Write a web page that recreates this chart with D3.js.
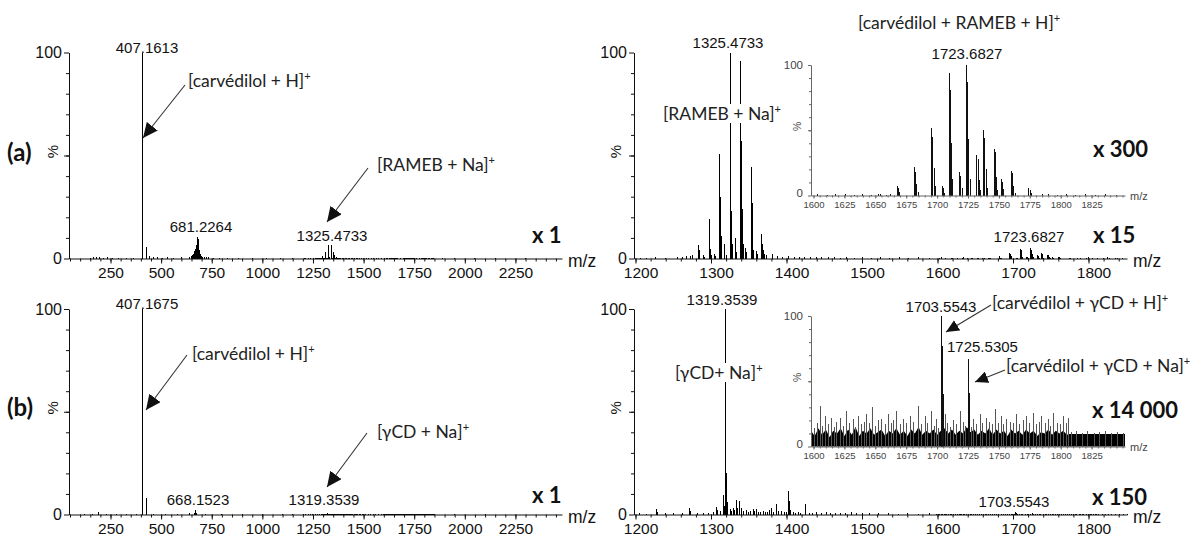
<!DOCTYPE html>
<html><head><meta charset="utf-8">
<script src="https://cdn.jsdelivr.net/npm/d3@7"></script>
<style>body{margin:0;background:#fff}svg{display:block}</style>
</head><body>
<svg id="c" width="1194" height="538"></svg>
<script>
// ---------------- DATA (m/z, relative intensity %) ----------------
// (a) full scan, own peaks outside the 1198–1851 zoom window
const specA_low = [[150,0.4],[168,0.6],[182,0.5],[197,0.7],[213,0.4],[236,0.5],[262,0.3],[290,0.3],[330,0.3],[365,0.4],
 [407.1613,100],[429.15,5.7],[445,1.2],[460,0.8],[480,0.5],[505,0.4],[530,0.6],[560,0.4],[600,0.5],[640,0.7],
 [652,1.0],[657,1.5],[661,2.2],[664,3],[667,3.8],[670,4.5],[673,5.2],[676,6.5],[678,8],[680,9.5],[681.2264,10.5],
 [682.5,9.6],[684,8],[686,6],[688,4],[690,3],[693,2],[696,1.3],[700,1],[705,0.8],[712,0.6],[722,0.5],[735,0.5],
 [760,0.4],[790,0.3],[830,0.3],[880,0.3],[950,0.3],[1020,0.3],[1090,0.3],[1150,0.3],[1890,0.3],[1950,0.2],[2050,0.2],[2150,0.2],[2300,0.2]];
// (a) zoom window 1198–1851, scale x15
const specA_zoom = [[1206,0.4],[1215,0.3],[1227,0.6],[1240,0.4],[1255,0.7],[1262,0.5],[1268,1.4],[1273,1.0],[1276,1.6],
 [1283.4,6.5],[1284.4,4],[1285.4,1.6],[1290.4,1.5],[1292,0.8],[1297.4,19],[1298.4,11],[1299.4,4.5],[1300.4,1.5],
 [1304.4,2.4],[1306,1.2],[1311.4,50.6],[1312.4,30],[1313.4,11],[1314.4,3.5],[1317.4,7],[1318.4,4],[1320,1.5],
 [1325.4733,100],[1326.47,63],[1327.47,23],[1328.47,7],[1331.8,10],[1332.8,6],[1334,3],
 [1339.49,96],[1340.49,57],[1341.49,24],[1342.49,7],[1346,5],[1347,3],
 [1353.5,44.5],[1354.5,27],[1355.5,14.5],[1356.5,4],[1360.5,3.5],[1361.5,2],
 [1367.5,11.8],[1368.5,7],[1369.5,4],[1370.5,2],[1374,1.5],[1381,2.4],[1382,1.5],[1388,1.2],[1395,0.8],
 [1403,1.3],[1410,0.7],[1417,0.9],[1424,0.6],[1432,0.8],[1440,0.5],[1447,0.7],[1455,0.5],[1463,0.6],[1472,0.4],
 [1480,0.5],[1490,0.4],[1500,0.5],[1512,0.4],[1525,0.5],[1537,0.4],[1550,0.5],[1562,0.4],[1575,0.5],[1590,0.4],
 [1605,0.5],[1620,0.4],[1635,0.5],[1645,0.4],[1800,0.5],[1812,0.4],[1825,0.5],[1838,0.4]];
// (a) inset 1598–1852, scale x300
const insetA = [[1603,0.8],[1611,0.6],[1618,0.8],[1626,1.2],[1633,0.6],[1640,0.8],[1647,0.6],[1652.6,1.5],[1654,0.8],[1659,0.6],[1662,0.8],
 [1667.6,7.5],[1668.6,5.5],[1669.6,2.5],[1681.6,21.7],[1682.6,18],[1683.6,8.5],[1684.6,2.5],
 [1695.6,51.5],[1696.6,45],[1697.6,21],[1698.6,7.5],[1704.2,7],[1705.2,5.5],[1706.2,2],
 [1709.7,93.6],[1710.7,81],[1711.7,40],[1712.7,13],[1718.2,18],[1719.2,15],[1720.2,6],
 [1723.6827,100],[1724.68,87],[1725.68,43],[1726.68,13],[1732.2,31],[1733.2,28],[1734.2,12],[1735.2,4],
 [1737.7,50],[1738.7,44],[1739.7,20],[1740.7,6],[1746.2,36],[1747.2,33],[1748.2,14],[1749.2,4],
 [1751.7,12.5],[1752.7,10],[1753.7,5],[1760.2,19],[1761.2,17],[1762.2,7],[1763.2,2],
 [1774.2,5.6],[1775.2,4.5],[1776.2,2],[1785,1],[1790,0.8],[1797,0.6],[1805,0.8],[1812,0.6],[1820,0.8],[1828,0.6],[1836,0.8],[1845,0.6]];
// (b) full scan, own peaks
const specB_low = [[120,0.3],[160,0.4],[193,1.0],[230,0.4],[280,0.3],[330,0.3],[380,0.3],[407.1675,100],[429.15,7.8],
 [460,0.4],[520,0.3],[580,0.3],[640,0.5],[663,0.8],[668.1523,2.4],[675,0.6],[720,0.3],[800,0.3],[900,0.3],[1000,0.3],[1100,0.3],[1150,0.3],[1950,0.2],[2100,0.2]];
// (b) zoom window 1198–1851, scale x150
const specB_zoom = [[1205,0.5],[1214,0.4],[1228,2.6],[1229,1],[1240,0.5],[1250,0.6],[1262,0.5],[1272,3.2],[1273,1.5],[1282,0.6],
 [1290,0.7],[1297,0.8],[1303,1.2],[1307.5,3.7],[1308.5,2],[1312,1.5],[1316.3,9.4],[1317.3,4],[1319.3539,100],[1320.35,20],
 [1321.35,6],[1322.5,2],[1325.2,2.6],[1327,1.8],[1329.5,3.4],[1331,2],[1334,7],[1335,3],[1338.4,6.5],[1340.6,3],[1343,1.5],
 [1347.3,2.4],[1350,1.2],[1352.5,1.8],[1356,2.6],[1358,1.5],[1360.5,2.9],[1363,1.2],[1366,1],[1369.3,1.8],[1372,1.2],
 [1375,1],[1378,2.4],[1380.4,3],[1383,1],[1387,5],[1389,1.5],[1393.6,1.8],[1397,1],[1400,1.2],[1402.4,11.4],[1403.5,6.5],
 [1405,2],[1409,1],[1412,0.8],[1415.6,1],[1419,0.7],[1424.5,4.9],[1425.5,2],[1430,0.8],[1435,0.6],[1440,1.3],[1446,0.6],
 [1453,1.3],[1458,0.6],[1465,0.8],[1472,0.6],[1478,0.6],[1486.3,1.3],[1493,0.5],[1500,0.6],[1510,0.5],[1522,0.5],[1535,0.5],
 [1548,0.4],[1560,0.5],[1575,0.4],[1590,0.5],[1610,0.4],[1630,0.4],[1650,0.4],[1670,0.4],[1690,0.4],[1720,0.4],[1745,0.4],
 [1770,0.4],[1790,0.4],[1810,0.4],[1830,0.4]];
// (b) inset 1598–1852, scale x14000: spikes and dense noise floor
const insetB = [[1598.8,25],[1601,14],[1603,18],[1605.4,31],[1607,16],[1609.5,23],[1612,17],[1614.8,22],[1617,15],[1619,19],
 [1621.6,22],[1624,16],[1627,27],[1629,18],[1632.3,21],[1634,15],[1636.4,23],[1639,17],[1641,19],[1643.2,25],[1645.5,18],
 [1648,30],[1650,16],[1652.5,20],[1655.3,21],[1658,17],[1660.6,25],[1663,18],[1665,20],[1667.4,27],[1670,17],[1672.8,21],
 [1675,18],[1678.2,23],[1681,19],[1684.9,31],[1687,17],[1690.3,23],[1692.5,18],[1695.7,27],[1698,16],[1699.7,21],[1701.5,14],
 [1703.5543,100],[1704.55,77],[1705.55,40],[1706.5,25],[1708.5,18],[1711,15],[1713.2,20],[1716,17],[1718.6,27],[1721,19],
 [1723,16],[1725.5305,67],[1726.53,41],[1727.5,15],[1729.4,21],[1732,17],[1734.8,25],[1737,18],[1740.2,22],[1742.5,19],
 [1744.5,17],[1746.9,29],[1749.5,18],[1752.3,23],[1754,17],[1756.3,21],[1759,19],[1761.5,18],[1764.4,25],[1767,17],
 [1769.5,20],[1772.5,23],[1775,18],[1777.9,26],[1780.5,17],[1782.5,19],[1784.6,23],[1787.5,18],[1790,21],[1792,16],
 [1794,26],[1797,18],[1799.5,17],[1802.1,23],[1804.5,18],[1806.5,22],[1809,11],[1813,11.5],[1818,10.5],[1822,11.5],
 [1827,10.5],[1831,11],[1836,11.5],[1841,10.5],[1846,11],[1851,10]];
const insetB_floor = [[1598,12],[1601,8],[1604,14],[1607,9],[1610,13],[1613,7],[1616,12],[1619,10],[1622,14],[1625,8],
 [1628,13],[1631,9],[1634,15],[1637,8],[1640,12],[1643,10],[1646,14],[1649,9],[1652,11],[1655,13],[1658,8],[1661,12],
 [1664,10],[1667,14],[1670,9],[1673,12],[1676,8],[1679,13],[1682,10],[1685,15],[1688,9],[1691,12],[1694,10],[1697,13],
 [1700,9],[1703,12],[1706,14],[1709,10],[1712,13],[1715,9],[1718,12],[1721,10],[1724,15],[1727,11],[1730,13],[1733,9],
 [1736,12],[1739,10],[1742,14],[1745,9],[1748,13],[1751,10],[1754,12],[1757,8],[1760,13],[1763,10],[1766,12],[1769,9],
 [1772,13],[1775,10],[1778,12],[1781,8],[1784,11],[1787,10],[1790,13],[1793,9],[1796,12],[1799,10],[1802,12],[1805,9],
 [1807,9.5],[1852,9.5]];
// magnification factors shown on the chart
const magA = {low:1, zoom:15, inset:300};
const magB = {low:1, zoom:150, inset:14000};
// axis ticks
const ticksLeftMajor = [250,500,750,1000,1250,1500,1750,2000,2250];
const ticksRightMajor = [1200,1300,1400,1500,1600,1700,1800];
const ticksInsetMajor = [1600,1625,1650,1675,1700,1725,1750,1775,1800,1825];

// ---------------- DRAWING ----------------
const svg = d3.select("#c");
const NUM = "'Liberation Sans', Arial, sans-serif";
const TXT = "Lato, 'Open Sans', sans-serif";

const xL = d3.scaleLinear().domain([45,2480]).range([69,562]);
const xR = d3.scaleLinear().domain([1198,1851]).range([634,1127]);
const xI = d3.scaleLinear().domain([1598,1852]).range([811,1125]);
const yTop = d3.scaleLinear().domain([0,100]).range([258.5,52.5]);
const yBot = d3.scaleLinear().domain([0,100]).range([514.5,309]);
const yIA = d3.scaleLinear().domain([0,100]).range([195.5,65]);
const yIB = d3.scaleLinear().domain([0,100]).range([446.5,316]);

function scaleData(arr,f){return arr.map(d=>[d[0],d[1]*f]);}
// combined spectra at each magnification
const A_zoomFull = specA_zoom.concat(scaleData(insetA, magA.zoom/magA.inset));
const A_lowFull = specA_low.concat(scaleData(A_zoomFull, magA.low/magA.zoom));
const B_zoomFull = specB_zoom.concat(scaleData(insetB, magB.zoom/magB.inset));
const B_lowFull = specB_low.concat(scaleData(B_zoomFull, magB.low/magB.zoom));

function lines(data,x,y,color){
  const [d0,d1]=x.domain();
  svg.append("g").selectAll("line").data(data.filter(d=>d[0]>=d0&&d[0]<=d1)).join("line")
    .attr("x1",d=>x(d[0])).attr("x2",d=>x(d[0]))
    .attr("y1",y(0)).attr("y2",d=>y(Math.min(d[1],100)))
    .attr("stroke",color).attr("stroke-width",1).attr("shape-rendering","crispEdges");
}

function axes(x,y,o){
  const y0=y(0), x0=x.range()[0];
  const gm=svg.append("g").attr("transform",`translate(0,${y0})`)
    .call(d3.axisBottom(x).tickValues(o.xMinor).tickSize(o.minor).tickFormat(""));
  gm.select(".domain").remove();
  const gM=svg.append("g").attr("transform",`translate(0,${y0})`)
    .call(d3.axisBottom(x).tickValues(o.xMajor).tickSize(o.major).tickSizeOuter(0).tickPadding(o.pad).tickFormat(d3.format("d")));
  gM.selectAll("text").attr("font-size",o.fs).attr("font-family",NUM).attr("fill",o.tc).attr("dx",o.dx||0);
  const ym=svg.append("g").attr("transform",`translate(${x0},0)`)
    .call(d3.axisLeft(y).tickValues(d3.range(10,100,10)).tickSize(o.minor).tickFormat(""));
  ym.select(".domain").remove();
  const yM=svg.append("g").attr("transform",`translate(${x0},0)`)
    .call(d3.axisLeft(y).tickValues([0,50,100]).tickSize(o.major).tickSizeOuter(0).tickPadding(o.ypad).tickFormat(d=>d===50?"":d));
  yM.selectAll("text").attr("font-size",o.yfs).attr("font-family",NUM).attr("fill",o.tc);
  yM.selectAll(".tick").filter(d=>d===0).select("text").attr("dy",o.zeroDy);
  [gm,gM,ym,yM].forEach(s=>s.selectAll("line,path").attr("stroke",o.lc));
  // % label
  svg.append("text").attr("transform",`translate(${o.pctX},${(y(0)+y(100))/2-4}) rotate(-90)`)
    .attr("text-anchor","middle").attr("dominant-baseline","central")
    .attr("font-family",NUM).attr("font-size",o.pfs).attr("fill",o.tc).text("%");
  // m/z
  svg.append("text").attr("x",x.range()[1]+o.mzGap).attr("y",y0+o.mzDy)
    .attr("font-family",NUM).attr("font-size",o.mzfs).attr("fill",o.tc).text("m/z");
}

const mainOpt = (xMajor,xMinor,dx,pctX)=>({xMajor,xMinor,minor:3,major:5,pad:3.5,fs:15.5,yfs:16,pfs:15,ypad:2,tc:"#111",lc:"#111",dx,pctX,mzGap:6,mzDy:8,mzfs:17.5,zeroDy:"0.32em"});
const insetOpt = {xMajor:ticksInsetMajor,xMinor:d3.range(1600,1851,5),minor:2,major:3,pad:2.5,fs:9.5,yfs:11.5,pfs:10.5,ypad:5,tc:"#444",lc:"#666",dx:0,pctX:797,mzGap:5,mzDy:4,mzfs:11,zeroDy:"0.1em"};

// text helpers
function num(t,x,y,anchor){svg.append("text").attr("x",x).attr("y",y).attr("text-anchor",anchor||"middle")
  .attr("font-family",NUM).attr("font-size",15).attr("fill","#111").text(t);}
function ion(t,x,y,bg){
  const tx=svg.append("text").attr("x",x).attr("y",y).attr("font-family",TXT).attr("font-size",17.5).attr("fill","#222");
  tx.append("tspan").text(t);
  tx.append("tspan").attr("dy",-7).attr("font-size",11).text("+");
  if(bg){const b=tx.node().getBBox();
    svg.insert("rect",()=>tx.node()).attr("x",b.x-1).attr("y",b.y+2).attr("width",b.width+2).attr("height",b.height-3).attr("fill","#fff");}
}
function bold(t,x,y,fs){svg.append("text").attr("x",x).attr("y",y).attr("font-family",TXT).attr("font-weight","bold")
  .attr("font-size",fs||22).attr("fill","#111").text(t);}
const defs=svg.append("defs");
defs.append("marker").attr("id","ah").attr("markerUnits","userSpaceOnUse").attr("markerWidth",16).attr("markerHeight",14)
  .attr("refX",15).attr("refY",7).attr("orient","auto").append("path").attr("d","M0,0L15,7L0,14Z").attr("fill","#111");
defs.append("marker").attr("id","ah2").attr("markerUnits","userSpaceOnUse").attr("markerWidth",14).attr("markerHeight",12)
  .attr("refX",13).attr("refY",6).attr("orient","auto").append("path").attr("d","M0,0L13,6L0,12Z").attr("fill","#111");
function arrow(x1,y1,x2,y2,m){svg.append("line").attr("x1",x1).attr("y1",y1).attr("x2",x2).attr("y2",y2)
  .attr("stroke","#333").attr("stroke-width",1.1).attr("marker-end",`url(#${m||"ah"})`);}

// ---- spectra ----
lines(A_lowFull,xL,yTop,"#000");
lines(A_zoomFull,xR,yTop,"#000");
lines(B_lowFull,xL,yBot,"#000");
lines(B_zoomFull,xR,yBot,"#000");
// inset areas/lines
svg.append("path").datum(insetB_floor).attr("fill","#000")
  .attr("d",d3.area().x(d=>xI(d[0])).y0(yIB(0)).y1(d=>yIB(d[1])));
lines(insetA,xI,yIA,"#111");
lines(insetB,xI,yIB,"#555");
lines(insetB.filter(d=>d[1]>35),xI,yIB,"#111");

// ---- axes ----
axes(xL,yTop,mainOpt(ticksLeftMajor,d3.range(50,2451,50),0,52.5));
axes(xR,yTop,mainOpt(ticksRightMajor,d3.range(1200,1851,20),5,615));
axes(xL,yBot,mainOpt(ticksLeftMajor,d3.range(50,2451,50),0,52.5));
axes(xR,yBot,mainOpt(ticksRightMajor,d3.range(1200,1851,20),5,615));
axes(xI,yIA,insetOpt);
axes(xI,yIB,insetOpt);

// ---- annotations (a) ----
bold("(a)",7,161,24);
num("407.1613",147,53);
ion("[carvédilol + H]",188,87);
arrow(185,85,143,138);
num("681.2264",201,232);
ion("[RAMEB + Na]",377,171);
arrow(368,168,327,222);
num("1325.4733",332,241);
bold("x 1",532,243);
num("1325.4733",728,48);
ion("[RAMEB + Na]",663,120,true);
ion("[carvédilol + RAMEB + H]",858,29);
num("1723.6827",967,59);
bold("x 300",1093,157);
num("1723.6827",1029,242);
bold("x 15",1093,243);

// ---- annotations (b) ----
bold("(b)",7,416,24);
num("407.1675",147,309);
ion("[carvédilol + H]",192,360);
arrow(187,355,146,410);
num("668.1523",198,505);
num("1319.3539",324,505);
ion("[γCD + Na]",377,438);
arrow(367,433,327,487);
bold("x 1",532,503);
num("1319.3539",722,305);
ion("[γCD+ Na]",675,379,true);
num("1703.5543",941,312);
ion("[carvédilol + γCD + H]",992,309);
arrow(991,305,946,332,"ah2");
num("1725.5305",947,352,"start");
ion("[carvédilol + γCD + Na]",1006,372);
arrow(1005,370,975,382,"ah2");
bold("x 14 000",1092,418);
num("1703.5543",1014,507);
bold("x 150",1092,505);
</script>
</body></html>
